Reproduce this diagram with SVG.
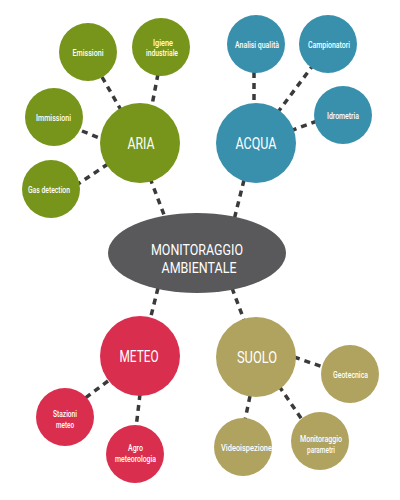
<svg xmlns="http://www.w3.org/2000/svg" width="400" height="500" viewBox="0 0 400 500">
<style>
.c{stroke:#3a3a3a;stroke-width:3.5;stroke-dasharray:6 5;fill:none}
.aria{fill:#76951a}
.acqua{fill:#3890ad}
.meteo{fill:#da2e4f}
.suolo{fill:#b0a25f}
.main{fill:#59595b}
text{font-family:Roboto,"Liberation Sans",sans-serif;fill:#fff;text-anchor:middle}
.big{font-size:17px}
.mid{font-size:14px}
.sm{font-size:9.5px;font-weight:500}
</style>
<rect width="400" height="500" fill="#fff"/>
<g id="connectors">
<line class="c" x1="150" y1="178" x2="166" y2="220"/>
<line class="c" x1="244" y1="180" x2="234" y2="220"/>
<line class="c" x1="158" y1="288" x2="150" y2="320"/>
<line class="c" x1="232" y1="288" x2="244" y2="320"/>
<line class="c" x1="102" y1="77" x2="121" y2="110"/>
<line class="c" x1="158" y1="74" x2="152" y2="105"/>
<line class="c" x1="82" y1="131" x2="102" y2="139"/>
<line class="c" x1="108" y1="164" x2="78" y2="184"/>
<line class="c" x1="254" y1="72" x2="254" y2="104"/>
<line class="c" x1="314" y1="64" x2="278" y2="112"/>
<line class="c" x1="317" y1="121" x2="293" y2="130"/>
<line class="c" x1="108" y1="381" x2="84" y2="399"/>
<line class="c" x1="140" y1="394" x2="136" y2="428"/>
<line class="c" x1="294" y1="357" x2="323" y2="367"/>
<line class="c" x1="250" y1="396" x2="245" y2="420"/>
<line class="c" x1="279" y1="386" x2="303" y2="421"/>
</g>
<g id="main"><ellipse class="main" cx="197" cy="253" rx="89" ry="40"/>
<text class="mid" x="197" y="255" textLength="92" lengthAdjust="spacingAndGlyphs">MONITORAGGIO</text>
<text class="mid" x="199" y="273" textLength="75" lengthAdjust="spacingAndGlyphs">AMBIENTALE</text></g>
<g id="aria"><circle class="aria" cx="140" cy="143" r="40"/><text class="big" x="141" y="149" textLength="27" lengthAdjust="spacingAndGlyphs">ARIA</text></g>
<g id="emissioni"><circle class="aria" cx="88" cy="52" r="29"/><text class="sm" x="88" y="55.5" textLength="31" lengthAdjust="spacingAndGlyphs">Emissioni</text></g>
<g id="igiene"><circle class="aria" cx="161" cy="47" r="29"/><text class="sm" x="163" y="46" textLength="20" lengthAdjust="spacingAndGlyphs">Igiene</text><text class="sm" x="162" y="56" textLength="32" lengthAdjust="spacingAndGlyphs">industriale</text></g>
<g id="immissioni"><circle class="aria" cx="54" cy="117" r="29"/><text class="sm" x="53.5" y="120.5" textLength="35" lengthAdjust="spacingAndGlyphs">Immissioni</text></g>
<g id="gas"><circle class="aria" cx="51" cy="189" r="29"/><text class="sm" x="49" y="192.5" textLength="42" lengthAdjust="spacingAndGlyphs">Gas detection</text></g>
<g id="acqua"><circle class="acqua" cx="256" cy="143" r="40"/><text class="big" x="256" y="149" textLength="41" lengthAdjust="spacingAndGlyphs">ACQUA</text></g>
<g id="analisi"><circle class="acqua" cx="256" cy="44" r="29"/><text class="sm" x="257" y="47.5" textLength="44" lengthAdjust="spacingAndGlyphs">Analisi qualità</text></g>
<g id="campionatori"><circle class="acqua" cx="328" cy="44" r="29"/><text class="sm" x="329" y="47.5" textLength="42" lengthAdjust="spacingAndGlyphs">Campionatori</text></g>
<g id="idrometria"><circle class="acqua" cx="343" cy="115" r="29"/><text class="sm" x="343" y="119" textLength="32" lengthAdjust="spacingAndGlyphs">Idrometria</text></g>
<g id="meteo"><circle class="meteo" cx="140" cy="356" r="40"/><text class="big" x="139" y="362" textLength="39" lengthAdjust="spacingAndGlyphs">METEO</text></g>
<g id="stazioni"><circle class="meteo" cx="65" cy="417" r="29"/><text class="sm" x="65" y="417" textLength="24" lengthAdjust="spacingAndGlyphs">Stazioni</text><text class="sm" x="65" y="428" textLength="18" lengthAdjust="spacingAndGlyphs">meteo</text></g>
<g id="agro"><circle class="meteo" cx="135" cy="454" r="29"/><text class="sm" x="135.5" y="451" textLength="15" lengthAdjust="spacingAndGlyphs">Agro</text><text class="sm" x="135.5" y="462" textLength="41" lengthAdjust="spacingAndGlyphs">meteorologia</text></g>
<g id="suolo"><circle class="suolo" cx="256" cy="357" r="40"/><text class="big" x="257" y="363" textLength="40" lengthAdjust="spacingAndGlyphs">SUOLO</text></g>
<g id="geotecnica"><circle class="suolo" cx="350" cy="374" r="29"/><text class="sm" x="350.5" y="377.5" textLength="35" lengthAdjust="spacingAndGlyphs">Geotecnica</text></g>
<g id="videoispezione"><circle class="suolo" cx="243" cy="447" r="29"/><text class="sm" x="246.5" y="450.5" textLength="51" lengthAdjust="spacingAndGlyphs">Videoispezione</text></g>
<g id="monitoraggio-parametri"><circle class="suolo" cx="320" cy="441" r="29"/><text class="sm" x="321" y="442" textLength="42" lengthAdjust="spacingAndGlyphs">Monitoraggio</text><text class="sm" x="321" y="453" textLength="28" lengthAdjust="spacingAndGlyphs">parametri</text></g>
</svg>
